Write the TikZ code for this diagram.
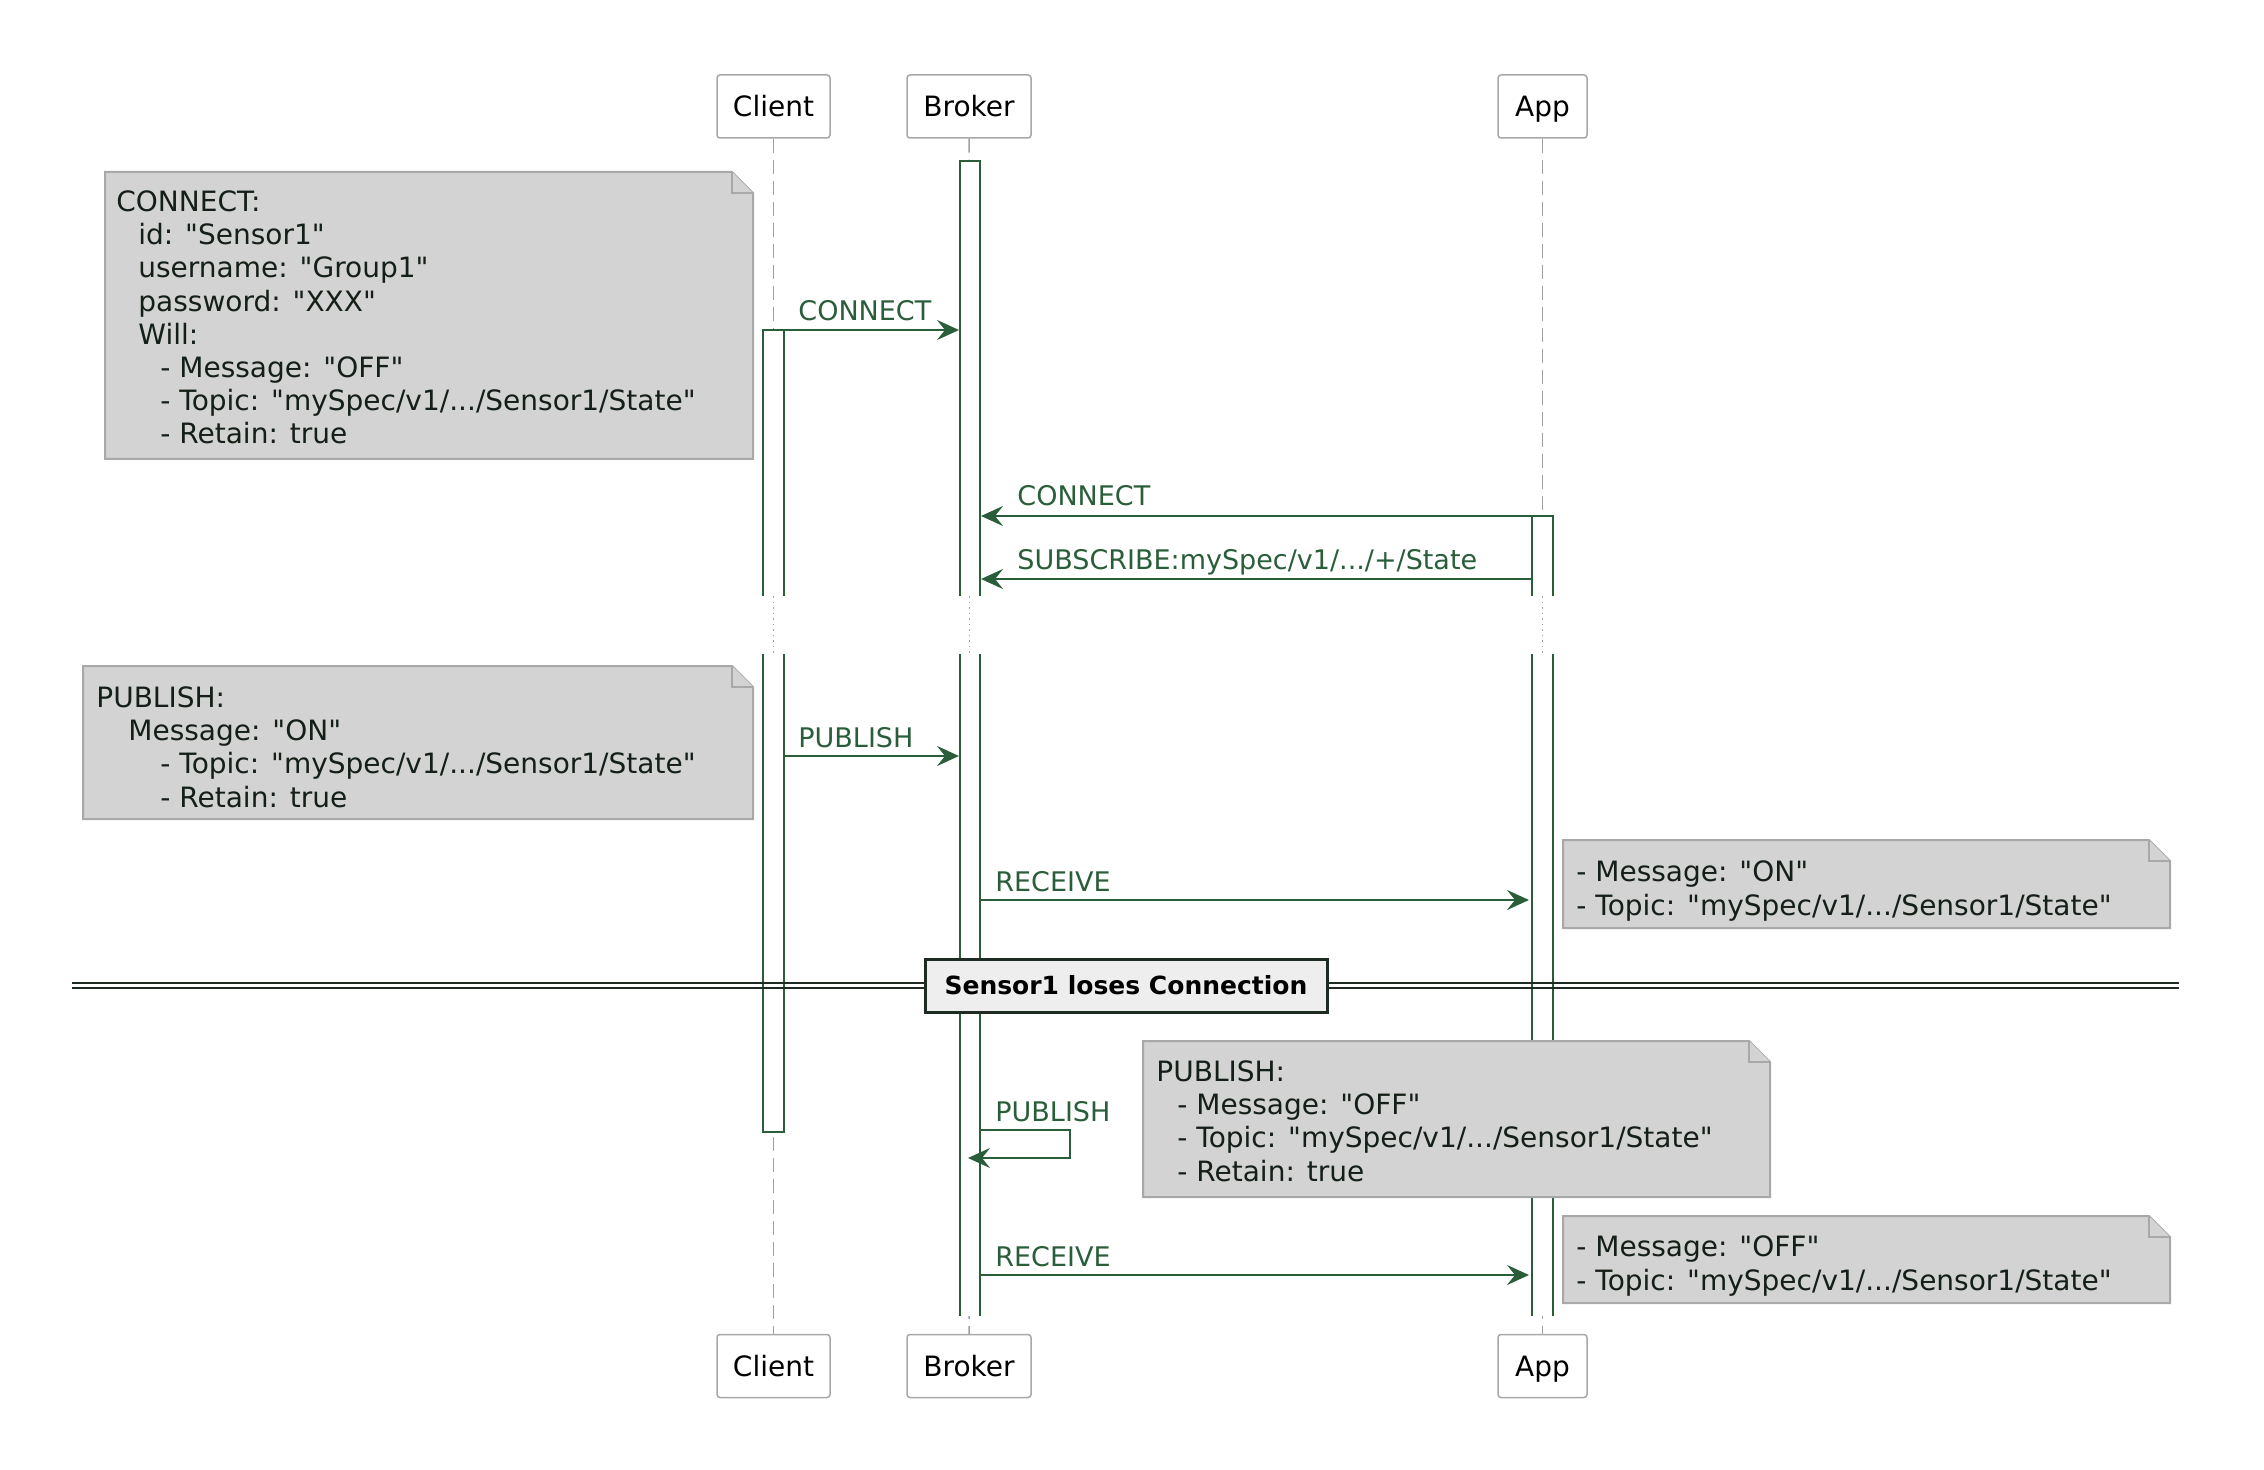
\documentclass[tikz,border=0pt]{standalone}
\usepackage{fontspec}
\setmainfont{DejaVu Sans}[Ligatures=TeXOff]
\usetikzlibrary{arrows.meta}
\definecolor{ugreen}{HTML}{2A5E3A}
\definecolor{nfill}{HTML}{D3D3D3}
\definecolor{nline}{HTML}{A8A8A8}
\definecolor{lgray}{HTML}{A0A0A0}
\definecolor{ntext}{HTML}{141F17}
\definecolor{divfill}{HTML}{EEEEEE}
\definecolor{divline}{HTML}{1E2B22}
\newcommand\umlnote[4]{%
  \filldraw[notebox] (#1,#2) -- (#3-21,#2) -- (#3,#2+21) -- (#3,#4) -- (#1,#4) -- cycle;
  \draw[notebox] (#3-21,#2) -- (#3-21,#2+21) -- (#3,#2+21);}
% bar with a break, closed at the bottom
\newcommand\actbar[4]{%
  \filldraw[actbar] (#1,596) -- (#1,#3) -- (#2,#3) -- (#2,596);
  \filldraw[actbar] (#1,654) -- (#1,#4) -- (#2,#4) -- (#2,654);}
% bar with a break, open at the bottom
\newcommand\actbaropen[4]{%
  \filldraw[actbar] (#1,596) -- (#1,#3) -- (#2,#3) -- (#2,596);
  \fill[white] (#1,654) rectangle (#2,#4);
  \draw[actbar] (#1,654) -- (#1,#4);
  \draw[actbar] (#2,654) -- (#2,#4);}
\begin{document}
\begin{tikzpicture}[x=0.5pt,y=-0.5pt,
  part/.style={draw=nline, fill=white, rounded corners=1.5pt, line width=0.75pt,
    minimum height=31.5pt, text height=10.2pt, text depth=0pt, inner sep=0pt,
    font=\fontsize{14}{17}\selectfont, text=black},
  life/.style={lgray, line width=0.75pt, dash pattern=on 7pt off 3.5pt},
  gapline/.style={lgray, line width=0.75pt, dotted},
  actbar/.style={draw=ugreen, fill=white, line width=1pt},
  msg/.style={ugreen, line width=1.1pt, -{Stealth[length=11pt,width=10pt,inset=4pt]}},
  lbl/.style={ugreen, anchor=base west, inner sep=0pt, font=\fontsize{13.5}{16}\selectfont},
  ntxt/.style={ntext, anchor=base west, inner sep=0pt, font=\fontsize{14}{17}\selectfont},
  notebox/.style={fill=nfill, draw=nline, line width=1pt},
  divider/.style={divline, line width=1.3pt},
  divbox/.style={draw=divline, fill=divfill, line width=1.5pt, minimum width=201pt,
    minimum height=26.5pt, inner sep=0pt, font=\fontsize{12.5}{15}\selectfont\bfseries, text=black}
]
\useasboundingbox (0,0) rectangle (2264,1470);
\fill[white] (0,0) rectangle (2264,1470);

% participants
\node[part, minimum width=56.5pt] (cTop) at (773.5,106.5) {Client};
\node[part, minimum width=62pt] (bTop) at (969,106.5) {Broker};
\node[part, minimum width=44.5pt] (aTop) at (1542.5,106.5) {App};
\node[part, minimum width=56.5pt] (cBot) at (773.5,1366) {Client};
\node[part, minimum width=62pt] (bBot) at (969,1366) {Broker};
\node[part, minimum width=44.5pt] (aBot) at (1542.5,1366) {App};

% lifelines
\coordinate (cg1) at (773.5,596); \coordinate (cg2) at (773.5,654);
\coordinate (bg1) at (969.5,596); \coordinate (bg2) at (969.5,654);
\coordinate (ag1) at (1542.5,596); \coordinate (ag2) at (1542.5,654);
\draw[life] (cTop.south) -- (cg1); \draw[gapline] (cg1) -- (cg2); \draw[life] (cg2) -- (cBot.north);
\draw[life] (bTop.south) -- (bg1); \draw[gapline] (bg1) -- (bg2); \draw[life] (bg2) -- (bBot.north);
\draw[life] (aTop.south) -- (ag1); \draw[gapline] (ag1) -- (ag2); \draw[life] (ag2) -- (aBot.north);

% activation bars
\actbar{763}{784}{330}{1132}
\actbaropen{959.5}{980}{161}{1316}
\actbaropen{1532}{1553}{516}{1316}

% messages
\coordinate (m1s) at (784,330);   \coordinate (m1e) at (959,330);
\coordinate (m2s) at (1532,516);  \coordinate (m2e) at (981,516);
\coordinate (m3s) at (1532,579);  \coordinate (m3e) at (981,579);
\coordinate (m4s) at (784,756);   \coordinate (m4e) at (959,756);
\coordinate (m5s) at (980,900);   \coordinate (m5e) at (1529,900);
\coordinate (m6s) at (980,1130);  \coordinate (m6a) at (1070,1130);
\coordinate (m6b) at (1070,1158); \coordinate (m6e) at (968,1158);
\coordinate (m7s) at (980,1275);  \coordinate (m7e) at (1529,1275);
\draw[msg] (m1s) -- (m1e);
\draw[msg] (m2s) -- (m2e);
\draw[msg] (m3s) -- (m3e);
\draw[msg] (m4s) -- (m4e);
\draw[msg] (m5s) -- (m5e);
\draw[msg] (m6s) -- (m6a) -- (m6b) -- (m6e);
\draw[msg] (m7s) -- (m7e);

\node[lbl] (l1) at (798,321) {CONNECT};
\node[lbl] (l2) at (1017,506) {CONNECT};
\node[lbl] (l3) at (1017,569) {SUBSCRIBE:mySpec/v1/.../+/State};
\node[lbl] (l4) at (798,747) {PUBLISH};
\node[lbl] (l5) at (995,891) {RECEIVE};
\node[lbl] (l6) at (995,1121) {PUBLISH};
\node[lbl] (l7) at (995,1266) {RECEIVE};

% divider
\coordinate (d1a) at (72,983);  \coordinate (d1b) at (2179,983);
\coordinate (d2a) at (72,988);  \coordinate (d2b) at (2179,988);
\draw[divider] (d1a) -- (d1b);
\draw[divider] (d2a) -- (d2b);
\node[divbox] (div) at (1126,985.5) {Sensor1 loses Connection};

% note 1
\umlnote{105}{172}{753}{459}
\node[ntxt] (n1a) at (116,211.5) {CONNECT:};
\node[ntxt] (n1b) at (138,244.7) {id: "Sensor1"};
\node[ntxt] (n1c) at (138,277.9) {username: "Group1"};
\node[ntxt] (n1d) at (138,311.1) {password: "XXX"};
\node[ntxt] (n1e) at (138,344.3) {Will:};
\node[ntxt] (n1f) at (160,377.5) {- Message: "OFF"};
\node[ntxt] (n1g) at (160,410.7) {- Topic: "mySpec/v1/.../Sensor1/State"};
\node[ntxt] (n1h) at (160,443.9) {- Retain: true};

% note 2
\umlnote{83}{666}{753}{819}
\node[ntxt] (n2a) at (96,707.5) {PUBLISH:};
\node[ntxt] (n2b) at (128,740.7) {Message: "ON"};
\node[ntxt] (n2c) at (160,773.9) {- Topic: "mySpec/v1/.../Sensor1/State"};
\node[ntxt] (n2d) at (160,807.1) {- Retain: true};

% note ON
\umlnote{1563}{840}{2170}{928}
\node[ntxt] (n3a) at (1576,881) {- Message: "ON"};
\node[ntxt] (n3b) at (1576,915) {- Topic: "mySpec/v1/.../Sensor1/State"};

% note 3
\umlnote{1143}{1041}{1770}{1197}
\node[ntxt] (n4a) at (1156,1081.5) {PUBLISH:};
\node[ntxt] (n4b) at (1177,1114.7) {- Message: "OFF"};
\node[ntxt] (n4c) at (1177,1147.9) {- Topic: "mySpec/v1/.../Sensor1/State"};
\node[ntxt] (n4d) at (1177,1181.1) {- Retain: true};

% note OFF
\umlnote{1563}{1216}{2170}{1303}
\node[ntxt] (n5a) at (1576,1256) {- Message: "OFF"};
\node[ntxt] (n5b) at (1576,1290) {- Topic: "mySpec/v1/.../Sensor1/State"};
\end{tikzpicture}
\end{document}
